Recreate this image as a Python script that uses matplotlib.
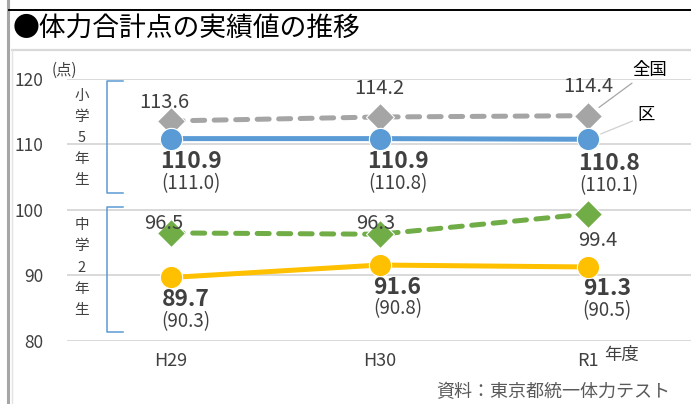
import matplotlib
matplotlib.use("Agg")
import matplotlib.pyplot as plt
from matplotlib.lines import Line2D

plt.rcParams['font.family'] = ['Noto Sans CJK JP', 'DejaVu Sans']

# データ
years = ['H29', 'H30', 'R1']
sho5_ku = [110.9, 110.9, 110.8]
sho5_zenkoku = [113.6, 114.2, 114.4]
sho5_prev = ['(111.0)', '(110.8)', '(110.1)']
chu2_ku = [89.7, 91.6, 91.3]
chu2_zenkoku = [96.5, 96.3, 99.4]
chu2_prev = ['(90.3)', '(90.8)', '(90.5)']

# 色
c_blue = '#5B9BD5'
c_gray = '#A5A5A5'
c_gold = '#FFC000'
c_green = '#70AD47'
c_text = '#404040'

W, H = 691, 404
fig = plt.figure(figsize=(W / 100, H / 100), dpi=100)

# 外枠・タイトル
def px(x, y):
    return x / W, 1 - y / H

fig.add_artist(Line2D([8 / W, 8 / W], [0, 1], color='#A6A6A6', lw=2.2))
fig.add_artist(Line2D([9 / W, 1], [1 - 10 / H] * 2, color='black', lw=1.4))
fig.add_artist(Line2D([12 / W, 1], [1 - 50 / H] * 2, color='#D9D9D9', lw=1.6))
fig.add_artist(Line2D([12 / W, 12 / W], [0, 1 - 50 / H], color='#E3E3E3', lw=1.0))
fig.text(*px(13, 29), '●体力合計点の実績値の推移', fontsize=19.3, va='center', ha='left', color='black')

ax = fig.add_axes([67 / W, 1 - 341 / H, (692 - 67) / W, (341 - 79) / H])
x = list(range(len(years)))

ax.set_xlim(-0.5, 2.5)
ax.set_ylim(80, 120)
ax.set_yticks([80, 90, 100, 110, 120])
ax.set_xticks(x)
ax.set_xticklabels(years)
ax.tick_params(length=0, labelcolor=c_text)
ax.tick_params(axis='x', pad=8, labelsize=13)
ax.tick_params(axis='y', pad=17, labelsize=12.5)
for s in ax.spines.values():
    s.set_visible(False)
ax.grid(axis='y', color='#D9D9D9', lw=1.4)
ax.set_axisbelow(True)

# 折れ線
ax.plot(x, sho5_zenkoku, color=c_gray, lw=3.6, ls=(0, (2.4, 1.9)), dash_capstyle='round',
        marker='D', ms=14, mec='white', mew=0.8, zorder=3)
ax.plot(x, sho5_ku, color=c_blue, lw=3.6, marker='o', ms=16, mec='white', mew=0.8, zorder=4)
ax.plot(x, chu2_zenkoku, color=c_green, lw=3.6, ls=(0, (2.4, 1.9)), dash_capstyle='round',
        marker='D', ms=14, mec='white', mew=0.8, zorder=3)
ax.plot(x, chu2_ku, color=c_gold, lw=3.6, marker='o', ms=16, mec='white', mew=0.8, zorder=4)

# データラベル (offset: px -> pt)
def lab(xi, yi, txt, dx, dy, **kw):
    ax.annotate(txt, (xi, yi), xytext=(dx * 0.72, -dy * 0.72), textcoords='offset points',
                ha='center', va='center', color=c_text, annotation_clip=False, **kw)

gray_off = [(-7, -18), (0, -28), (0, -29)]
for i in x:
    lab(i, sho5_zenkoku[i], f'{sho5_zenkoku[i]:.1f}', *gray_off[i], fontsize=14.5)

blue_off = [(20, 23), (18, 23), (21, 24)]
for i in x:
    lab(i, sho5_ku[i], f'{sho5_ku[i]:.1f}', *blue_off[i], fontsize=16.5, fontweight='bold')
    lab(i, sho5_ku[i], sho5_prev[i], blue_off[i][0], blue_off[i][1] + 22, fontsize=13.5)

green_off = [(-7, -9), (-4, -11), (10, 27)]
for i in x:
    lab(i, chu2_zenkoku[i], f'{chu2_zenkoku[i]:.1f}', *green_off[i], fontsize=14.5)

gold_off = [(15, 22), (18, 22), (19, 22)]
for i in x:
    lab(i, chu2_ku[i], f'{chu2_ku[i]:.1f}', *gold_off[i], fontsize=16.5, fontweight='bold')
    lab(i, chu2_ku[i], chu2_prev[i], gold_off[i][0], gold_off[i][1] + 22, fontsize=13.5)

# 凡例 (引出線)
ax.annotate('全国', (2, sho5_zenkoku[2]), xytext=(45 * 0.72, 46 * 0.72), textcoords='offset points',
            ha='left', va='center', fontsize=12.5, color='black', annotation_clip=False,
            arrowprops=dict(arrowstyle='-', color='#A6A6A6', lw=0.9, shrinkA=2, shrinkB=10))
ax.annotate('区', (2, sho5_ku[2]), xytext=(50 * 0.72, 24 * 0.72), textcoords='offset points',
            ha='left', va='center', fontsize=12.5, color='black', annotation_clip=False,
            arrowprops=dict(arrowstyle='-', color='#D0D0D0', lw=0.9, shrinkA=2, shrinkB=10))

# 学年ブラケット
bx0, bx1 = -0.31, -0.23
for y0, y1, lbl, ty in [(119.7, 102.6, '小\n学\n5\n年\n生', 111.0), (100.5, 81.4, '中\n学\n2\n年\n生', 91.2)]:
    ax.plot([bx1, bx0, bx0, bx1], [y0, y0, y1, y1], color=c_blue, lw=1.1, clip_on=False)
    ax.text(-0.43, ty, lbl, ha='center', va='center', fontsize=10.5, color=c_text, linespacing=1.65)

ax.text(-0.025, 1.0, '(点)', transform=ax.transAxes, ha='left', va='bottom', fontsize=11, color=c_text)
fig.text(*px(604, 355), '年度', fontsize=12.5, ha='left', va='center', color=c_text)
fig.text(*px(670, 392), '資料：東京都統一体力テスト', fontsize=13, ha='right', va='center', color='#595959')

fig.savefig('out.png', dpi=100)
